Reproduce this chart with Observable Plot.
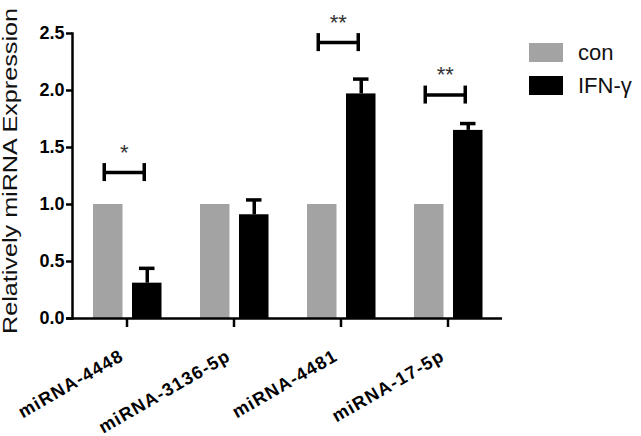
<!DOCTYPE html>
<html>
<head>
<meta charset="utf-8">
<script src="https://cdn.jsdelivr.net/npm/d3@7"></script>
<script src="https://cdn.jsdelivr.net/npm/@observablehq/plot@0.6"></script>
<style>
  body { margin: 0; background: #fff; }
  #wrap { position: relative; width: 641px; height: 436px; font-family: "Liberation Sans", Arial, sans-serif; }
  #legend { position: absolute; left: 529px; top: 43px; width: 112px; }
  #legend > div { display: flex !important; flex-direction: column !important; align-items: flex-start !important; gap: 14px; margin: 0 !important; min-height: 0 !important; }
  #legend > div > span, #legend > div > div { display: flex !important; align-items: center !important; height: 19px; margin: 0 !important; padding: 0 !important; font-size: 22px; color: #111; }
  #legend svg { margin-right: 15px !important; }
  g[aria-label="x-axis tick label"] text { letter-spacing: 1.2px; }
</style>
</head>
<body>
<div id="wrap"><div id="chart"></div><div id="legend"></div></div>
<script>
const categories = ["miRNA-4448", "miRNA-3136-5p", "miRNA-4481", "miRNA-17-5p"];
const groups = ["con", "IFN-γ"];
const conValues = [1.0, 1.0, 1.0, 1.0];
const ifnValues = [0.31, 0.91, 1.97, 1.65];
const ifnErrors = [0.13, 0.13, 0.13, 0.06];
const sigLabels = ["*", "", "**", "**"];
const sigLevels = [1.28, null, 2.42, 1.96];
const yTicks = [0, 0.5, 1.0, 1.5, 2.0, 2.5];
const yLabel = "Relatively miRNA Expression";
const colors = ["#a3a3a3", "#000000"];

const conData = categories.map((c, i) => ({cat: c, v: conValues[i]}));
const ifnData = categories.map((c, i) => ({cat: c, v: ifnValues[i], top: ifnValues[i] + ifnErrors[i]}));
const sigData = categories.map((c, i) => ({cat: c, label: sigLabels[i], y: sigLevels[i]})).filter(d => d.y != null);

const font = "Liberation Sans, Arial, sans-serif";

const chart = Plot.plot({
  width: 641,
  height: 436,
  marginLeft: 72,
  marginRight: 139,
  marginTop: 33,
  marginBottom: 118,
  style: {fontFamily: font, background: "#fff", color: "#000"},
  x: {domain: categories, padding: 0, label: null},
  y: {domain: [0, 2.5], label: null},
  marks: [
    Plot.barY(conData, {x: "cat", y: "v", fill: colors[0], insetLeft: 20, insetRight: 57.5}),
    Plot.barY(ifnData, {x: "cat", y: "v", fill: colors[1], insetLeft: 59, insetRight: 18.5}),
    Plot.ruleX(ifnData, {x: "cat", y1: "v", y2: "top", dx: 20.25, stroke: "#000", strokeWidth: 3.5}),
    Plot.tickY(ifnData, {x: "cat", y: "top", insetLeft: 66, insetRight: 25.5, stroke: "#000", strokeWidth: 3.5}),
    Plot.tickY(sigData, {x: "cat", y: "y", insetLeft: 31, insetRight: 36.5, stroke: "#000", strokeWidth: 3.5}),
    Plot.ruleX(sigData, {x: "cat", y1: "y", y2: "y", dx: -22.75, insetTop: -9, insetBottom: -9, stroke: "#000", strokeWidth: 3.5}),
    Plot.ruleX(sigData, {x: "cat", y1: "y", y2: "y", dx: 17.25, insetTop: -9, insetBottom: -9, stroke: "#000", strokeWidth: 3.5}),
    Plot.text(sigData, {x: "cat", y: "y", text: "label", dx: -2.75, dy: -20, fontSize: 22, fill: "#333"}),
    Plot.ruleY([0], {stroke: "#000", strokeWidth: 2.5, insetLeft: -6}),
    Plot.frame({anchor: "left", stroke: "#000", strokeWidth: 2.5}),
    Plot.axisY({ticks: yTicks, tickFormat: d3.format(".1f"), tickSize: 6, tickPadding: 2, fontSize: 18, fontWeight: "bold", strokeWidth: 2.5, label: null}),
    Plot.axisX({tickSize: 9, tickFormat: () => "", strokeWidth: 2.5, label: null}),
    Plot.axisX({tickRotate: -30, tickSize: 0, tickPadding: 36, dx: -5, fontSize: 18, fontWeight: "bold", label: null}),
    Plot.text([yLabel], {frameAnchor: "left", textAnchor: "middle", lineAnchor: "middle", rotate: -90, dx: -62, dy: -5, fontSize: 20, fill: "#111", className: "ylabel"})
  ]
});
document.getElementById("chart").appendChild(chart);

// stretch the y title to the reference's length
d3.select(chart).selectAll(".ylabel text").attr("textLength", 326).attr("lengthAdjust", "spacingAndGlyphs");

const legend = Plot.legend({
  color: {domain: groups, range: colors},
  swatchWidth: 34,
  swatchHeight: 19,
  style: {fontFamily: font, fontSize: "22px"}
});
document.getElementById("legend").appendChild(legend);
</script>
</body>
</html>
